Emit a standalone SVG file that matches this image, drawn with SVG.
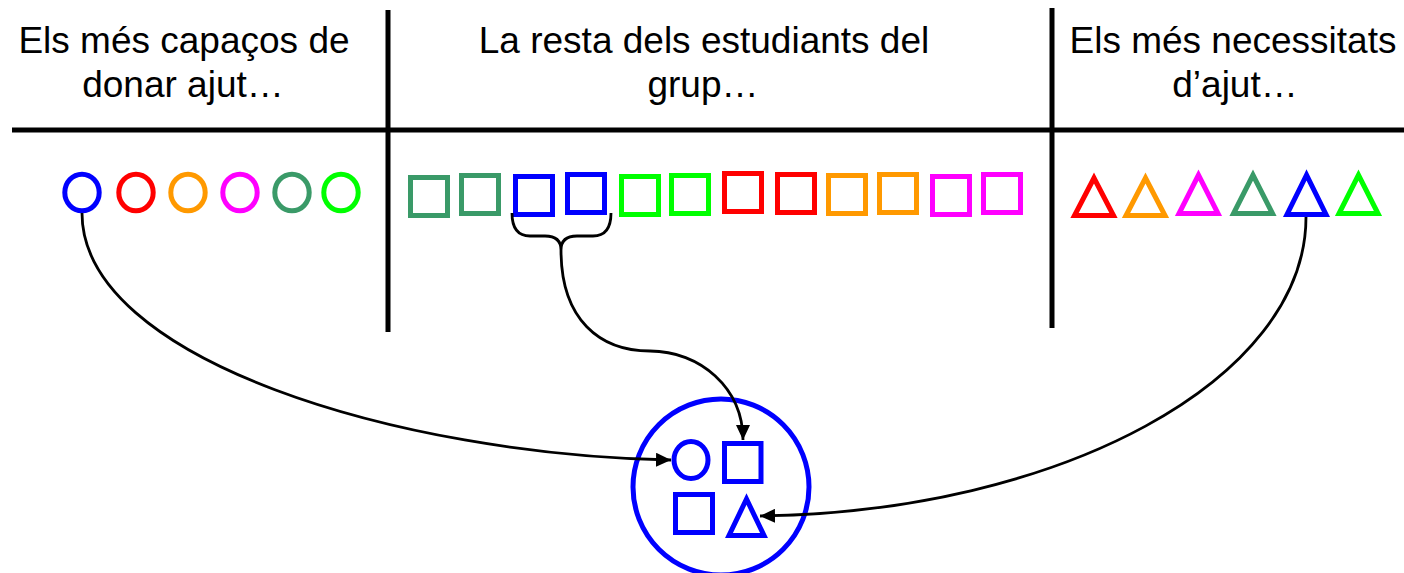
<svg xmlns="http://www.w3.org/2000/svg" width="1404" height="573" viewBox="0 0 1404 573">
<style>
  text { font-family: "Liberation Sans", Arial, sans-serif; font-size: 37px; fill: #000; text-anchor: middle; }
  .rule { stroke: #000; stroke-width: 5; fill: none; }
  .shape { fill: none; stroke-width: 5; stroke-linejoin: miter; stroke-miterlimit: 10; }
  .conn { fill: none; stroke: #000; stroke-width: 2.8; }
  .blue { stroke: #0000FF; }
  .red { stroke: #FF0000; }
  .orange { stroke: #FF9900; }
  .magenta { stroke: #FF00FF; }
  .sea { stroke: #3A9A68; }
  .green { stroke: #00FF00; }
</style>
<defs>
  <marker id="arrow" markerUnits="userSpaceOnUse" markerWidth="16" markerHeight="14" refX="15" refY="7" orient="auto">
    <path d="M0,0 L15,7 L0,14 Z" fill="#000"/>
  </marker>
</defs>
<rect width="1404" height="573" fill="#fff"/>

<g id="headers">
  <text x="184" y="53">Els més capaços de</text>
  <text x="183" y="97">donar ajut…</text>
  <text x="704" y="53">La resta dels estudiants del</text>
  <text x="703" y="97">grup…</text>
  <text x="1233" y="53">Els més necessitats</text>
  <text x="1235" y="97">d’ajut…</text>
</g>

<g id="table-lines">
  <line class="rule" x1="12" y1="130" x2="1404" y2="130"/>
  <line class="rule" x1="388" y1="10" x2="388" y2="332"/>
  <line class="rule" x1="1052" y1="8" x2="1052" y2="328"/>
</g>

<g id="capable-students">
  <ellipse class="shape blue" cx="82" cy="192.5" rx="17.2" ry="18.3"/>
  <ellipse class="shape red" cx="136" cy="192.5" rx="17.2" ry="18.3"/>
  <ellipse class="shape orange" cx="188" cy="192.5" rx="17.2" ry="18.3"/>
  <ellipse class="shape magenta" cx="240" cy="192.5" rx="17.2" ry="18.3"/>
  <ellipse class="shape sea" cx="292" cy="192.5" rx="17.2" ry="18.3"/>
  <ellipse class="shape green" cx="341" cy="192.5" rx="17.2" ry="18.3"/>
</g>

<g id="rest-students">
  <rect class="shape sea" x="410.5" y="177.5" width="37" height="38"/>
  <rect class="shape sea" x="461.5" y="175.5" width="37" height="38"/>
  <rect class="shape blue" x="515.5" y="176.5" width="37" height="38"/>
  <rect class="shape blue" x="567.5" y="174.5" width="37" height="38"/>
  <rect class="shape green" x="621.5" y="176.5" width="37" height="38"/>
  <rect class="shape green" x="671.5" y="175.5" width="37" height="38"/>
  <rect class="shape red" x="724.5" y="173.5" width="37" height="38"/>
  <rect class="shape red" x="777.5" y="174.5" width="37" height="38"/>
  <rect class="shape orange" x="828.5" y="175.5" width="37" height="38"/>
  <rect class="shape orange" x="879.5" y="174.5" width="37" height="38"/>
  <rect class="shape magenta" x="932.5" y="176.5" width="37" height="38"/>
  <rect class="shape magenta" x="983.5" y="174.5" width="37" height="38"/>
</g>

<g id="needy-students">
  <polygon class="shape red" points="1094,178 1074.5,215.5 1113.5,215.5"/>
  <polygon class="shape orange" points="1145.5,178 1126,215.5 1165,215.5"/>
  <polygon class="shape magenta" points="1198.5,175 1179,213.5 1218,213.5"/>
  <polygon class="shape sea" points="1253,175 1233.5,213.5 1272.5,213.5"/>
  <polygon class="shape blue" points="1306.5,175 1287,214.5 1326,214.5"/>
  <polygon class="shape green" points="1358.5,175 1339,213.5 1378,213.5"/>
</g>

<g id="group">
  <circle class="shape blue" cx="721" cy="487" r="88"/>
  <ellipse class="shape blue" cx="691" cy="460" rx="17" ry="18.5"/>
  <rect class="shape blue" x="724.5" y="443.5" width="36.5" height="38"/>
  <rect class="shape blue" x="675.5" y="494.5" width="37" height="38"/>
  <polygon class="shape blue" points="746.5,499 729,535.5 764,535.5"/>
</g>

<g id="connectors">
  <path class="conn" d="M82,213 C82,360 400,455 671,460" marker-end="url(#arrow)"/>
  <path class="conn" d="M1306,217 C1306,380 1060,512 760,516" marker-end="url(#arrow)"/>
  <path class="conn" d="M512,213 Q512,236 530,236 L545,236 Q561,236 561,250 Q561,236 577,236 L593,236 Q611,236 611,213"/>
  <path class="conn" d="M561,250 C561,320 600,351 650,351 C700,351 743,388 743,440" marker-end="url(#arrow)"/>
</g>
</svg>
